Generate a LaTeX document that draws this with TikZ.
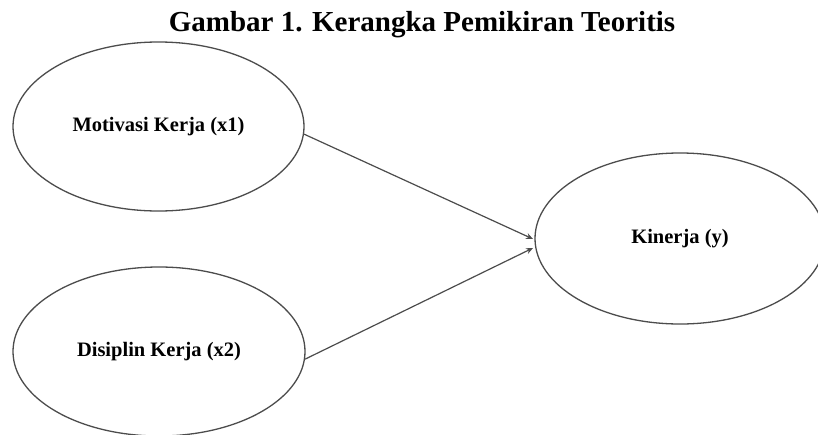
\documentclass[tikz,border=0pt]{standalone}
\usepackage{fontspec}
\setmainfont{Liberation Serif}
\usetikzlibrary{shapes.geometric,arrows.meta}
\begin{document}
\begin{tikzpicture}[x=1pt,y=-1pt,
  oval/.style={ellipse,draw=black!70,line width=1.3pt,inner sep=0pt,
    font=\bfseries\fontsize{20.5}{24}\selectfont},
  link/.style={draw=black!70,line width=1.2pt,-{Stealth[length=7pt,width=6pt]}}]
\useasboundingbox[fill=white] (0,0) rectangle (818,434);
\node[font=\bfseries\fontsize{29}{34}\selectfont,anchor=base,inner sep=0pt] (title) at (422,31) {Gambar 1. Kerangka Pemikiran Teoritis};
\node[oval,minimum width=291pt,minimum height=169pt] (mot) at (158.5,126.5) {Motivasi Kerja (x1)};
\node[oval,minimum width=292pt,minimum height=169pt] (dis) at (159,351.5) {Disiplin Kerja (x2)};
\node[oval,minimum width=290pt,minimum height=171pt] (kin) at (680,238.5) {Kinerja (y)};
\coordinate (k1) at (533,239);
\coordinate (k2) at (533,248);
\draw[link] (mot.-3) -- (k1);
\draw[link] (dis.-3) -- (k2);
\end{tikzpicture}
\end{document}
